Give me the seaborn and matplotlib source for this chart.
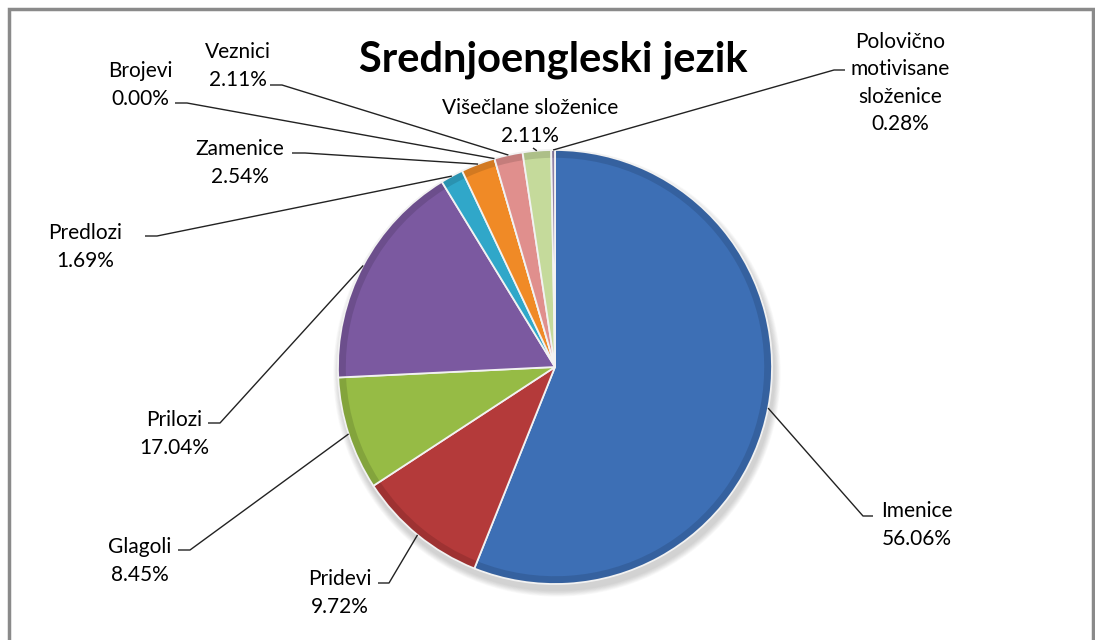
import numpy as np
import matplotlib
matplotlib.use("Agg")
import matplotlib.pyplot as plt
from matplotlib.patches import Circle, Rectangle, Wedge
import seaborn as sns

# data
categories = ["Imenice", "Pridevi", "Glagoli", "Prilozi", "Predlozi", "Zamenice",
              "Brojevi", "Veznici", "Višečlane složenice", "Polovično\nmotivisane\nsloženice"]
shares = [56.06, 9.72, 8.45, 17.04, 1.69, 2.54, 0.00, 2.11, 2.11, 0.28]
slice_colors = ["#3d6fb5", "#b43a3a", "#96bb45", "#7b59a0", "#30a7c9", "#f08a26",
                "#7f9fcf", "#e08f8d", "#c5da9b", "#8f82a8"]
title = "Srednjoengleski jezik"

# label layout in pixels (text centre, elbow start, elbow end)
label_pos = [(917, 525), (340, 593), (140, 561), (174, 434), (85, 247), (240, 163),
             (140, 85), (238, 66), (530, 122), (900, 83)]
elbows = [((873, 516), (863, 516)), ((378, 583), (389, 583)), ((178, 550), (190, 550)),
          ((208, 423), (220, 423)), ((145, 236), (157, 236)), ((292, 153), (305, 153)),
          ((175, 103), (187, 103)), ((270, 85), (282, 85)), ((533, 148), (533, 148)),
          ((845, 70), (834, 70))]

W, H = 1095, 640
cx, cy, r = 555, 367, 217

sns.set_theme(style="white")
plt.rcParams["font.family"] = ["Lato", "DejaVu Sans"]

fig = plt.figure(figsize=(W / 100, H / 100), dpi=100)
ax = fig.add_axes([0, 0, 1, 1])

def fy(y):
    return H - y

# soft shadow under the pie
for i in range(8):
    ax.add_patch(Circle((cx + 2, fy(cy) - 6), r + 1 + i * 0.8, color="#555555",
                        alpha=0.035, lw=0, zorder=0))

wedges, _ = ax.pie(shares, colors=slice_colors, startangle=90, counterclock=False,
                   center=(cx, fy(cy)), radius=r,
                   wedgeprops=dict(edgecolor="#f2f2f2", linewidth=1.3))

for w in wedges:
    w.set_zorder(2)
    # darker rim to hint at the bevel
    if w.theta2 - w.theta1 > 0.5:
        ax.add_patch(Wedge(w.center, r - 0.8, w.theta1 + 0.3, w.theta2 - 0.3, width=7,
                           color="black", alpha=0.12, lw=0, zorder=2.5))

# leader lines and labels
for w, cat, val, (tx, ty), (e0, e1) in zip(wedges, categories, shares, label_pos, elbows):
    ang = np.deg2rad((w.theta1 + w.theta2) / 2)
    ax_x = cx + r * np.cos(ang)
    ax_y = fy(cy) + r * np.sin(ang)
    ax.plot([e0[0], e1[0], ax_x], [fy(e0[1]), fy(e1[1]), ax_y],
            color="#222222", lw=1, zorder=3, solid_capstyle="butt")
    ax.text(tx, fy(ty), f"{cat}\n{val:.2f}%", ha="center", va="center",
            fontsize=15, linespacing=1.45, color="black", zorder=4)

ax.text(553, fy(60), title, ha="center", va="center", fontsize=30,
        fontweight="bold", color="black")

# chart border
ax.add_patch(Rectangle((9, -20), 1084, fy(9) + 20, fill=False, edgecolor="#8a8a8a",
                       lw=2.5, zorder=5))

ax.set_xlim(0, W)
ax.set_ylim(0, H)
ax.set_aspect("equal")
ax.axis("off")

fig.savefig("out.png", dpi=100, facecolor="white")
